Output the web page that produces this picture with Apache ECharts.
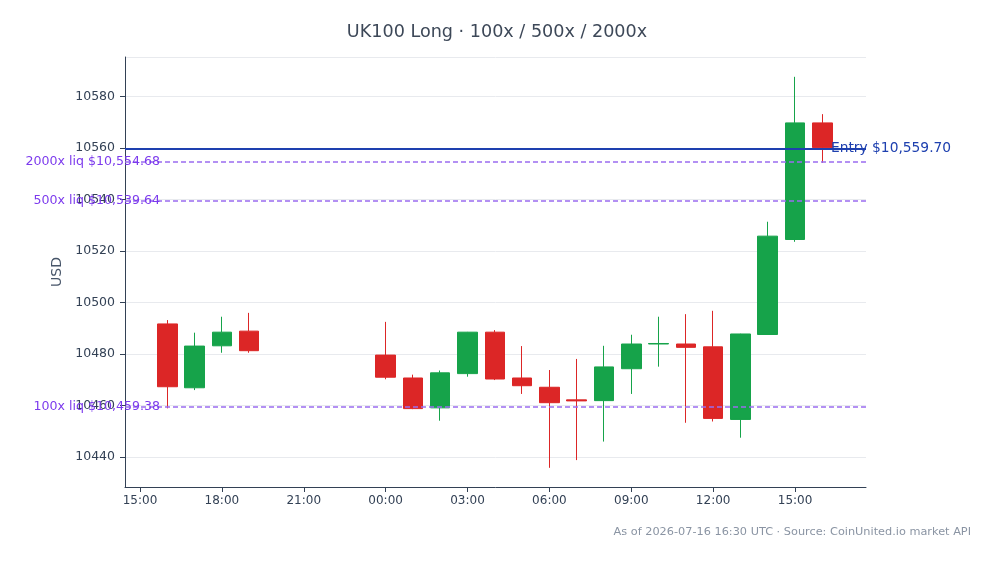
<!DOCTYPE html>
<html>
<head>
<meta charset="utf-8">
<script src="https://cdn.jsdelivr.net/npm/echarts@6/dist/echarts.min.js"></script>
<style>
  html, body { margin: 0; padding: 0; background: #fff; }
  #main { width: 994px; height: 564px; }
</style>
</head>
<body>
<div id="main"></div>
<script>
// hourly candles (UTC)
var times = ['2026-07-15 16:00', '2026-07-15 17:00', '2026-07-15 18:00', '2026-07-15 19:00',
  '2026-07-16 00:00', '2026-07-16 01:00', '2026-07-16 02:00', '2026-07-16 03:00', '2026-07-16 04:00',
  '2026-07-16 05:00', '2026-07-16 06:00', '2026-07-16 07:00', '2026-07-16 08:00', '2026-07-16 09:00',
  '2026-07-16 10:00', '2026-07-16 11:00', '2026-07-16 12:00', '2026-07-16 13:00', '2026-07-16 14:00',
  '2026-07-16 15:00', '2026-07-16 16:00'];
var opens  = [10491.7, 10466.9, 10483.2, 10488.9, 10479.6, 10470.7, 10459.1, 10472.4, 10488.5, 10470.7, 10467.1,
  10462.2, 10461.9, 10474.3, 10483.9, 10483.9, 10482.8, 10454.6, 10487.6, 10524.5, 10569.8];
var closes = [10467.3, 10483.1, 10488.5, 10481.3, 10471.0, 10458.8, 10472.7, 10488.5, 10470.3, 10467.7, 10461.1,
  10461.8, 10475.0, 10483.9, 10484.1, 10482.6, 10455.0, 10487.8, 10525.8, 10569.8, 10560.2];
var lows   = [10458.9, 10466.0, 10480.5, 10480.5, 10470.2, 10458.6, 10454.1, 10471.2, 10469.9, 10464.5, 10435.8,
  10438.8, 10446.0, 10464.5, 10475.1, 10453.3, 10453.8, 10447.5, 10487.6, 10523.6, 10554.3];
var highs  = [10493.2, 10488.3, 10494.5, 10496.0, 10492.5, 10472.0, 10473.6, 10488.6, 10489.3, 10483.1, 10473.8,
  10478.1, 10483.2, 10487.5, 10494.5, 10495.5, 10496.8, 10487.9, 10531.4, 10587.7, 10573.2];

var entryPrice = 10559.70;
var liqNames = ['100x', '500x', '2000x'];
var liqPrices = [10459.38, 10539.64, 10554.68];

var xTicks = ['2026-07-15 15:00', '2026-07-15 18:00', '2026-07-15 21:00', '2026-07-16 00:00', '2026-07-16 03:00',
  '2026-07-16 06:00', '2026-07-16 09:00', '2026-07-16 12:00', '2026-07-16 15:00'];

function ts(s) { return new Date(s.replace(' ', 'T') + ':00Z').getTime(); }
function pad(n) { return (n < 10 ? '0' : '') + n; }
function money(v) {
  return '$' + v.toFixed(2).replace(/\B(?=(\d{3})+(?!\d))/g, ',');
}

var candles = times.map(function (t, i) {
  return [ts(t), opens[i], closes[i], lows[i], highs[i]];
});

var UP = '#16a34a', DOWN = '#dc2626';
var FONT = 'DejaVu Sans';

var marks = [{
  yAxis: entryPrice,
  lineStyle: { color: '#1e40af', width: 2, type: 'solid' },
  label: {
    show: true, position: 'end', distance: -35,
    formatter: 'Entry ' + money(entryPrice),
    color: '#1e40af', fontSize: 13.8, fontFamily: FONT
  }
}];
liqNames.forEach(function (n, i) {
  marks.push({
    yAxis: liqPrices[i],
    lineStyle: { color: '#9b6cf0', width: 1.5, type: [5, 3] },
    label: {
      show: true, position: 'start', distance: -35,
      formatter: n + ' liq ' + money(liqPrices[i]),
      color: '#7c3aed', fontSize: 12.6, fontFamily: FONT
    }
  });
});

var chart = echarts.init(document.getElementById('main'));
chart.setOption({
  animation: false,
  textStyle: { fontFamily: FONT },
  title: {
    text: 'UK100 Long · 100x / 500x / 2000x',
    left: 'center', top: 18,
    textStyle: { fontSize: 17.6, fontWeight: 'normal', color: '#3d4858', fontFamily: FONT }
  },
  graphic: [{
    type: 'text', right: 23, top: 527,
    style: {
      text: 'As of 2026-07-16 16:30 UTC · Source: CoinUnited.io market API',
      fill: '#8a94a3', fontSize: 11.3, fontFamily: FONT
    }
  }],
  grid: { left: 125, right: 128, top: 57, bottom: 77 },
  xAxis: {
    type: 'value',
    min: ts('2026-07-15 14:27'),
    max: ts('2026-07-16 17:36'),
    axisLine: { lineStyle: { color: '#334155', width: 1 } },
    axisTick: { show: true, length: 5, lineStyle: { color: '#334155' }, customValues: xTicks.map(ts) },
    axisLabel: {
      customValues: xTicks.map(ts),
      color: '#334155', fontSize: 12, margin: 8, fontFamily: FONT,
      formatter: function (v) { var d = new Date(v); return pad(d.getUTCHours()) + ':' + pad(d.getUTCMinutes()); }
    },
    splitLine: { show: false }
  },
  yAxis: {
    type: 'value',
    min: 10428.35, max: 10595.4,
    minInterval: 20, maxInterval: 20, splitNumber: 8,
    name: 'USD', nameLocation: 'middle', nameGap: 60,
    nameTextStyle: { color: '#475569', fontSize: 14, fontFamily: FONT },
    axisLine: { show: true, lineStyle: { color: '#334155', width: 1 } },
    axisTick: { show: true, length: 5, lineStyle: { color: '#334155' } },
    axisLabel: {
      color: '#334155', fontSize: 12.5, margin: 10, showMinLabel: false, showMaxLabel: false, fontFamily: FONT,
      formatter: function (v) { return String(Math.round(v)); }
    },
    splitLine: { show: true, lineStyle: { color: '#e8eaee', width: 1 } }
  },
  series: [{
    type: 'candlestick',
    data: candles,
    barWidth: 20,
    itemStyle: { color: UP, color0: DOWN, borderColor: UP, borderColor0: DOWN, borderWidth: 1 },
    markLine: {
      silent: true,
      symbol: ['none', 'none'],
      data: marks
    }
  }]
});
</script>
</body>
</html>
